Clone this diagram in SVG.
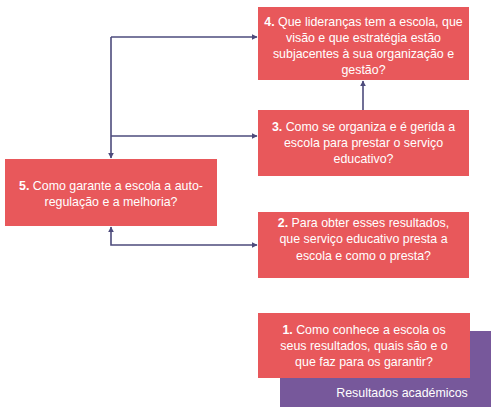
<svg xmlns="http://www.w3.org/2000/svg" width="495" height="407" viewBox="0 0 495 407">
<defs>
<style>
.box{fill:#E8585B;}
.t{font-family:"Liberation Sans",Arial,sans-serif;font-size:12.4px;fill:#ffffff;text-anchor:middle;}
.b{font-weight:bold;}
.c{fill:none;stroke:#4D4B7C;stroke-width:1.6;}
</style>
<marker id="ah" viewBox="0 0 10 10" refX="9" refY="5" markerWidth="6" markerHeight="6" orient="auto-start-reverse" markerUnits="userSpaceOnUse">
<path d="M0,0 L10,5 L0,10 z" fill="#4D4B7C"/>
</marker>
</defs>
<rect width="495" height="407" fill="#ffffff"/>
<g id="connectors">
<path class="c" d="M111,37 H257" marker-end="url(#ah)"/>
<path class="c" d="M111,37 V158" marker-end="url(#ah)"/>
<path class="c" d="M111,136 H257" marker-end="url(#ah)"/>
<path class="c" d="M111,227 V245 H257" marker-start="url(#ah)" marker-end="url(#ah)"/>
<path class="c" d="M363,110 V81" marker-end="url(#ah)"/>
</g>
<g id="node4">
<rect class="box" x="258" y="7" width="211" height="73"/>
<text class="t" x="363.5" y="26"><tspan class="b">4.</tspan> Que lideranças tem a escola, que</text>
<text class="t" x="363.5" y="42">visão e que estratégia estão</text>
<text class="t" x="363.5" y="58">subjacentes à sua organização e</text>
<text class="t" x="363.5" y="74">gestão?</text>
</g>
<g id="node3">
<rect class="box" x="258" y="110" width="211" height="66"/>
<text class="t" x="363.5" y="131"><tspan class="b">3.</tspan> Como se organiza e é gerida a</text>
<text class="t" x="363.5" y="147">escola para prestar o serviço</text>
<text class="t" x="363.5" y="163">educativo?</text>
</g>
<g id="node5">
<rect class="box" x="5" y="159" width="212" height="67"/>
<text class="t" x="111" y="190"><tspan class="b">5.</tspan> Como garante a escola a auto-</text>
<text class="t" x="111" y="206">regulação e a melhoria?</text>
</g>
<g id="node2">
<rect class="box" x="258" y="212" width="211" height="66"/>
<text class="t" x="363.5" y="227"><tspan class="b">2.</tspan> Para obter esses resultados,</text>
<text class="t" x="363.5" y="243">que serviço educativo presta a</text>
<text class="t" x="363.5" y="260">escola e como o presta?</text>
</g>
<g id="results">
<rect x="280" y="331" width="211" height="76" fill="#77589B"/>
<text class="t" x="402" y="397">Resultados académicos</text>
</g>
<g id="node1">
<rect class="box" x="258" y="313" width="212" height="65"/>
<text class="t" x="364" y="334"><tspan class="b">1.</tspan> Como conhece a escola os</text>
<text class="t" x="364" y="350">seus resultados, quais são e o</text>
<text class="t" x="364" y="366">que faz para os garantir?</text>
</g>
</svg>
